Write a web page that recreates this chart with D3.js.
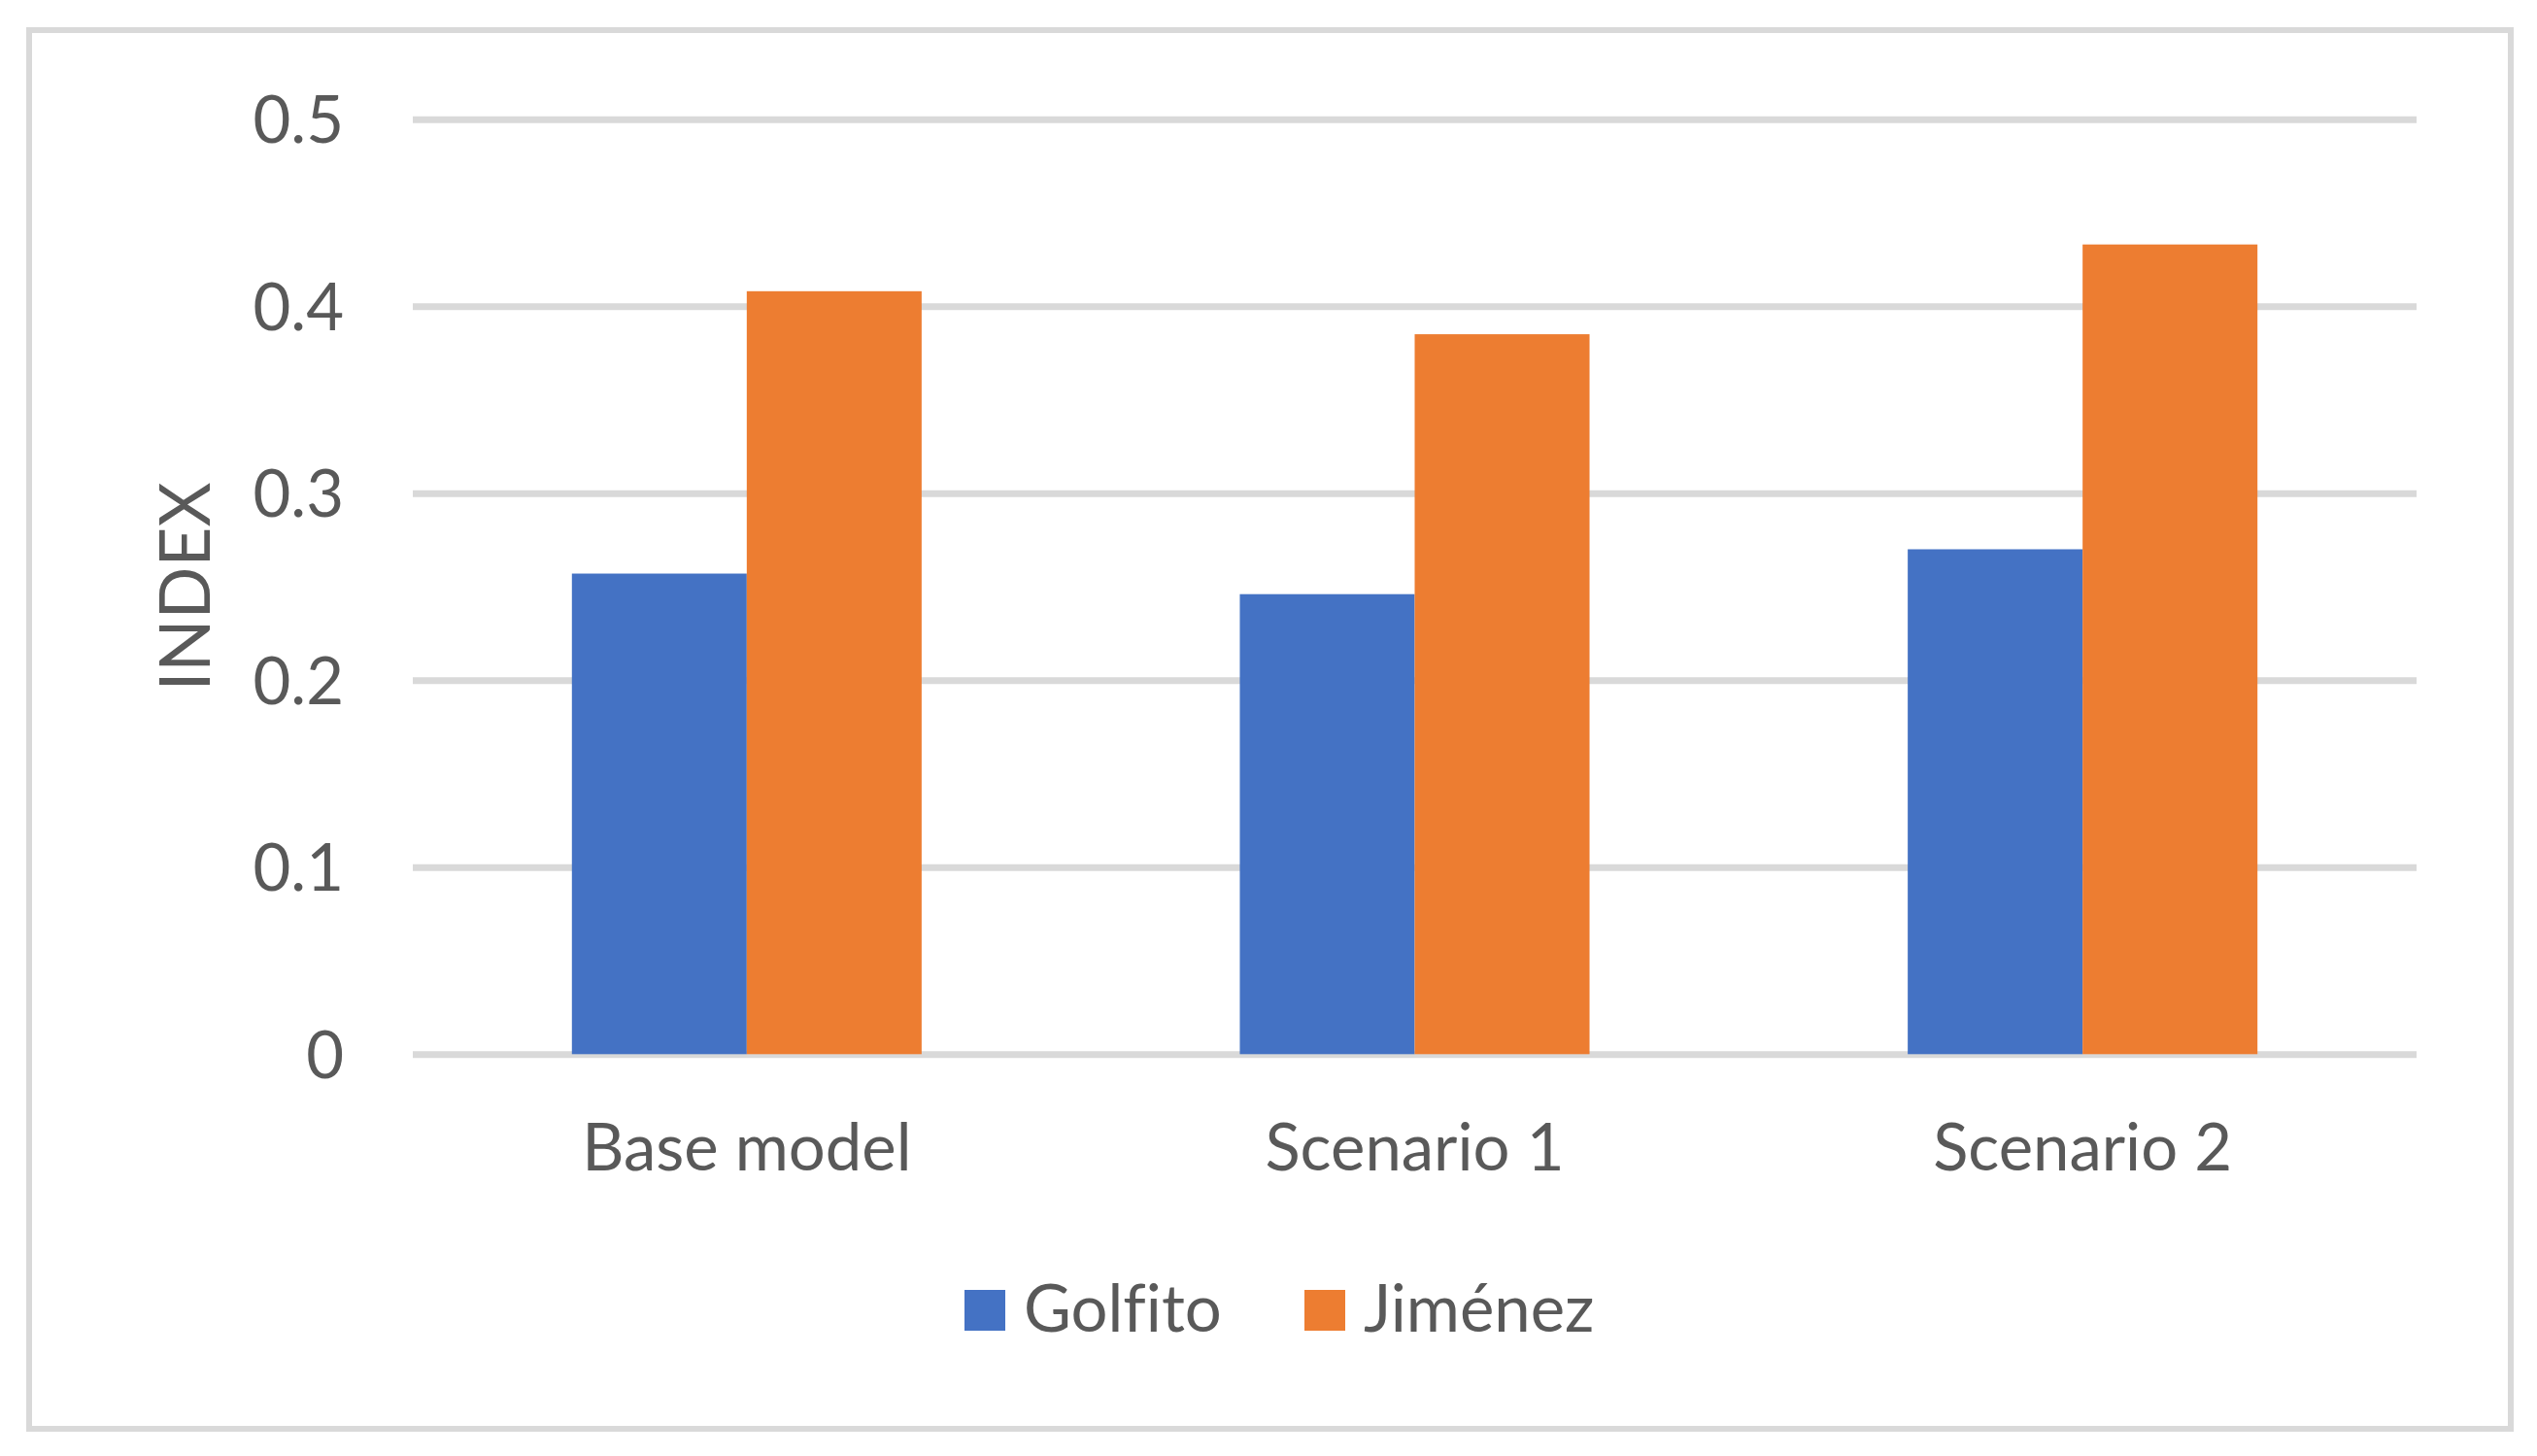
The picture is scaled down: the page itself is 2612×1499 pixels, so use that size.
<!DOCTYPE html>
<html lang="en">
<head>
    <meta charset="UTF-8">
    <title>INDEX by scenario</title>
    <script src="https://cdn.jsdelivr.net/npm/d3@7"></script>
    <style>
        body{
            margin: 0;
            background: #ffffff;
        }
        text{
            font-family: Lato, "Open Sans", sans-serif;
            font-variant-ligatures: none;
            fill: #595959;
        }
    </style>
</head>
<body>

<svg id="chart" width="2612" height="1499"></svg>

<script>
    // values
    const categories = ["Base model", "Scenario 1", "Scenario 2"];
    const seriesNames = ["Golfito", "Jiménez"];
    const golfito = [0.257, 0.246, 0.270];
    const jimenez = [0.408, 0.385, 0.433];
    const yTicks = [0, 0.1, 0.2, 0.3, 0.4, 0.5];
    const yTickLabels = ["0", "0.1", "0.2", "0.3", "0.4", "0.5"];

    const colors = ["#4472c4", "#ed7d31"];
    const fontSize = 67;

    let svg = d3.select("#chart")

    // outer frame
    svg.append("rect")
        .attr("x", 30)
        .attr("y", 31)
        .attr("width", 2555)
        .attr("height", 1440)
        .attr("fill", "#ffffff")
        .attr("stroke", "#d9d9d9")
        .attr("stroke-width", 6)

    const plot = {left: 425, right: 2488, top: 122.7, bottom: 1085.3};
    const gap = 0.4764;

    let x0 = d3.scaleBand()
        .domain(categories)
        .range([plot.left, plot.right])
        .paddingInner(gap)
        .paddingOuter(gap / 2)

    let x1 = d3.scaleBand()
        .domain(seriesNames)
        .range([0, x0.bandwidth()])

    let y = d3.scaleLinear()
        .domain([0, 0.5])
        .range([plot.bottom, plot.top])

    let color = d3.scaleOrdinal()
        .domain(seriesNames)
        .range(colors)

    // gridlines + y tick labels
    let yAxis = svg.append("g")
        .attr("transform", "translate(" + plot.left + ",0)")
        .call(d3.axisLeft(y)
            .tickValues(yTicks)
            .tickFormat((d, i) => yTickLabels[i])
            .tickSize(-(plot.right - plot.left))
            .tickPadding(71))
    yAxis.select(".domain").remove()
    yAxis.selectAll(".tick line")
        .attr("stroke", "#d9d9d9")
        .attr("stroke-width", 7)
    yAxis.selectAll(".tick text")
        .attr("font-family", null)
        .attr("dy", "0.36em")
        .style("font-size", fontSize + "px")

    // bars
    let rows = categories.map((c, i) => ({
        category: c,
        values: [
            {series: seriesNames[0], value: golfito[i]},
            {series: seriesNames[1], value: jimenez[i]}
        ]
    }))

    svg.append("g")
        .selectAll("g")
        .data(rows)
        .join("g")
        .attr("transform", d => "translate(" + x0(d.category) + ",0)")
        .selectAll("rect")
        .data(d => d.values)
        .join("rect")
        .attr("x", d => x1(d.series))
        .attr("y", d => y(d.value))
        .attr("width", x1.bandwidth())
        .attr("height", d => y(0) - y(d.value))
        .attr("fill", d => color(d.series))

    // category labels
    let xAxis = svg.append("g")
        .attr("transform", "translate(0," + plot.bottom + ")")
        .call(d3.axisBottom(x0).tickSize(0))
    xAxis.select(".domain").remove()
    xAxis.selectAll(".tick text")
        .attr("font-family", null)
        .attr("y", 120)
        .attr("dy", null)
        .style("font-size", fontSize + "px")

    // y axis title
    svg.append("text")
        .attr("transform", "translate(216," + ((plot.top + plot.bottom) / 2) + ") rotate(-90)")
        .attr("text-anchor", "middle")
        .style("font-size", "71px")
        .text("INDEX")

    // legend
    const legendX = [993, 1343];
    let legend = svg.append("g")
        .selectAll("g")
        .data(seriesNames)
        .join("g")
        .attr("transform", (d, i) => "translate(" + legendX[i] + ",1328)")
    legend.append("rect")
        .attr("width", 42)
        .attr("height", 42)
        .attr("fill", d => color(d))
    legend.append("text")
        .attr("x", 61)
        .attr("y", 43)
        .style("font-size", fontSize + "px")
        .text(d => d)
</script>

</body>
</html>
